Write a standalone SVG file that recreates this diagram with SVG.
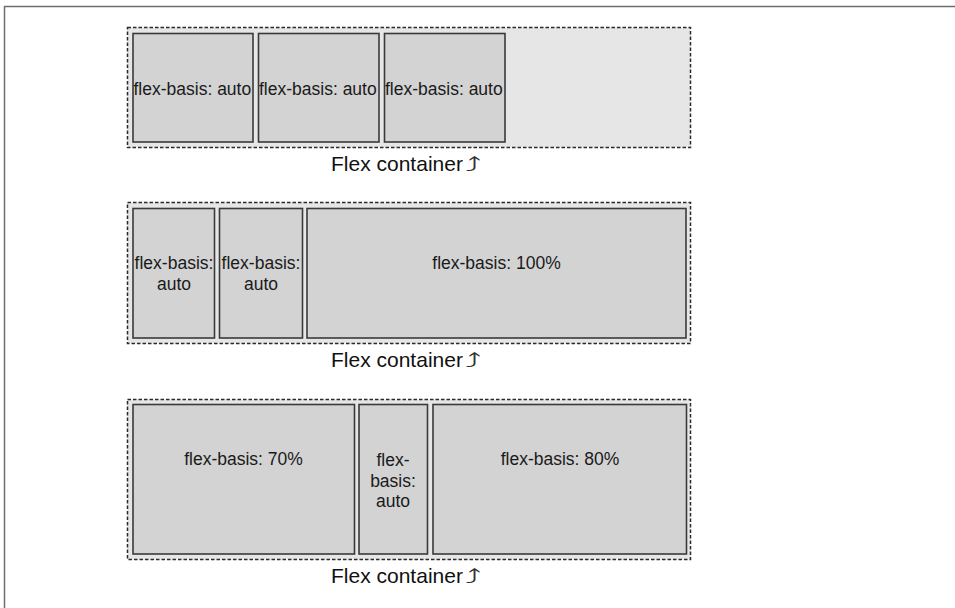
<svg xmlns="http://www.w3.org/2000/svg" width="955" height="608" viewBox="0 0 955 608">
<style>
.frame{stroke:#6e6e6e;stroke-width:1.5;fill:none}
.cont{fill:#e6e6e6;stroke:#2a2a2a;stroke-width:1.5;stroke-dasharray:3.5 2}
.item{fill:#d3d3d3;stroke:#3a3a3a;stroke-width:1.6}
.t{font-family:"Liberation Sans",Arial,sans-serif;font-size:17.5px;fill:#1a1a1a}
.c{text-anchor:middle}
.lbl{font-family:"Liberation Sans",Arial,sans-serif;font-size:21px;fill:#111}
.arr{font-family:"DejaVu Sans",sans-serif;font-size:21px;fill:#333}
</style>
<rect width="955" height="608" fill="#fff"/>
<path class="frame" d="M4.5,608 V6.5 H955"/>

<g id="container1">
<rect class="cont" x="127.5" y="27.5" width="563" height="120"/>
<text class="lbl" x="331" y="171">Flex container</text>
<text class="arr" transform="translate(465,171) scale(1.55,0.95)">⤴</text>
</g>
<g id="item1a"><rect class="item" x="133" y="33.5" width="120" height="108.5"/><text class="t" x="133.5" y="95">flex-basis: auto</text></g>
<g id="item1b"><rect class="item" x="258.5" y="33.5" width="120.5" height="108.5"/><text class="t" x="259" y="95">flex-basis: auto</text></g>
<g id="item1c"><rect class="item" x="384.5" y="33.5" width="120.5" height="108.5"/><text class="t" x="385" y="95">flex-basis: auto</text></g>

<g id="container2">
<rect class="cont" x="127.5" y="202.5" width="563" height="141"/>
<text class="lbl" x="331" y="367">Flex container</text>
<text class="arr" transform="translate(465,367) scale(1.55,0.95)">⤴</text>
</g>
<g id="item2a"><rect class="item" x="133" y="208.5" width="81.5" height="129.5"/><text class="t c" x="174" y="269">flex-basis:<tspan x="174" y="290">auto</tspan></text></g>
<g id="item2b"><rect class="item" x="219.5" y="208.5" width="83" height="129.5"/><text class="t c" x="261" y="269">flex-basis:<tspan x="261" y="290">auto</tspan></text></g>
<g id="item2c"><rect class="item" x="307" y="208.5" width="379" height="129.5"/><text class="t c" x="496.5" y="269">flex-basis: 100%</text></g>

<g id="container3">
<rect class="cont" x="127.5" y="399.5" width="563" height="160"/>
<text class="lbl" x="331" y="583">Flex container</text>
<text class="arr" transform="translate(465,583) scale(1.55,0.95)">⤴</text>
</g>
<g id="item3a"><rect class="item" x="133" y="404.5" width="221.5" height="149.5"/><text class="t c" x="243.5" y="465">flex-basis: 70%</text></g>
<g id="item3b"><rect class="item" x="359" y="404.5" width="68.5" height="149.5"/><text class="t c" x="393" y="466">flex-<tspan x="393" y="486.5">basis:</tspan><tspan x="393" y="507">auto</tspan></text></g>
<g id="item3c"><rect class="item" x="433" y="404.5" width="253.5" height="149.5"/><text class="t c" x="560" y="465">flex-basis: 80%</text></g>

<g id="connectors"></g>
</svg>
